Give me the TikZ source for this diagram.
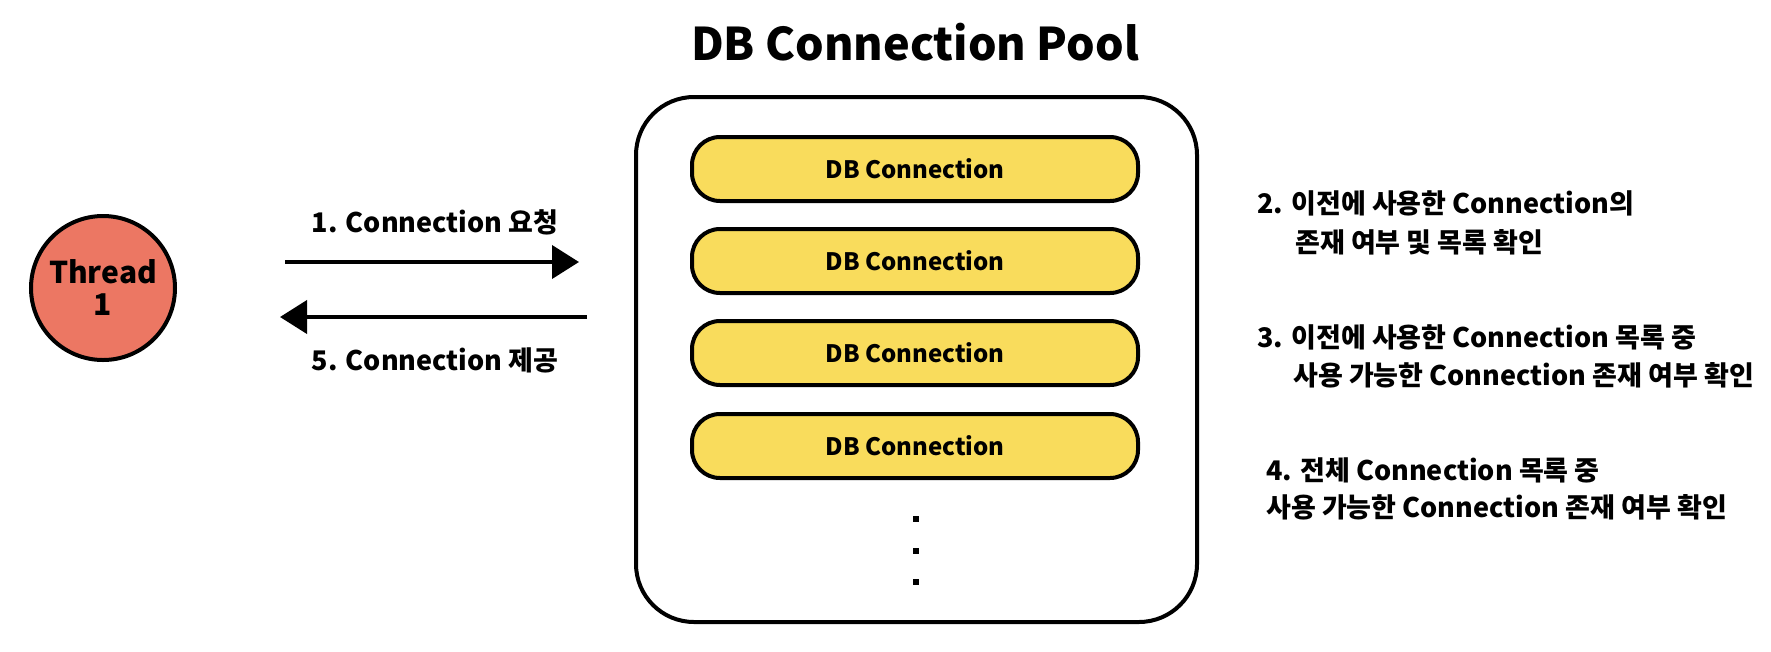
\documentclass[tikz,border=0pt]{standalone}
\usepackage{fontspec}
\setmainfont{Noto Sans CJK KR}
\usetikzlibrary{positioning}
\usetikzlibrary{arrows.meta}

\definecolor{threadred}{HTML}{EC7763}
\definecolor{connyellow}{HTML}{F9DC5C}

\tikzset{
	crayon/.style={draw=black, line width=4pt},
	conn/.style={crayon, fill=connyellow, rounded corners=28pt, minimum width=446pt, minimum height=64pt, inner sep=0pt, font=\fontsize{24}{28}\selectfont\bfseries},
	note/.style={anchor=base west, inner sep=0pt, font=\fontsize{27}{32}\selectfont\bfseries},
	flow/.style={crayon, -{Triangle[length=27pt, width=33pt]}}
}

\begin{document}
\begin{tikzpicture}[x=1pt, y=-1pt]
					\useasboundingbox (0, 0) rectangle (1771, 651);
					% title and pool
					\node (title) at (915, 60) [anchor = base, inner sep = 0pt, font = \fontsize{45}{50}\selectfont\bfseries] {DB Connection Pool};
					\draw[crayon, rounded corners = 58pt] (636, 97) rectangle (1197, 622);
					\node[conn] (c1) at (915, 169) {DB Connection};
					\node[conn] (c2) at (915, 261) {DB Connection};
					\node[conn] (c3) at (915, 353) {DB Connection};
					\node[conn] (c4) at (915, 446) {DB Connection};
					\foreach \y in {519, 551, 582}
						\fill[black] (913, \y-3) rectangle (919, \y+3);
					% thread
					\node[crayon, circle, fill = threadred, minimum size = 144pt, inner sep = 0pt, align = center, font = \fontsize{30}{32}\selectfont\bfseries] (thread) at (103, 288) {Thread\\1};
					% request and reply
					\coordinate (reqs) at (285, 262);
					\coordinate (reqe) at (579, 262);
					\coordinate (reps) at (587, 317);
					\coordinate (repe) at (280, 317);
					\draw[flow] (reqs)--(reqe);
					\draw[flow] (reps)--(repe);
					\node[note, anchor = base] (req) at (435, 232) {1. Connection 요청};
					\node[note, anchor = base] (rep) at (435, 370) {5. Connection 제공};
					% steps
					\node[note] (s2a) at (1257, 213) {2. 이전에 사용한 Connection의};
					\node[note] (s2b) at (1295, 252) {존재 여부 및 목록 확인};
					\node[note] (s3a) at (1257, 347) {3. 이전에 사용한 Connection 목록 중};
					\node[note] (s3b) at (1293, 385) {사용 가능한 Connection 존재 여부 확인};
					\node[note] (s4a) at (1266, 480) {4. 전체 Connection 목록 중};
					\node[note] (s4b) at (1266, 517) {사용 가능한 Connection 존재 여부 확인};
				\end{tikzpicture}
\end{document}
